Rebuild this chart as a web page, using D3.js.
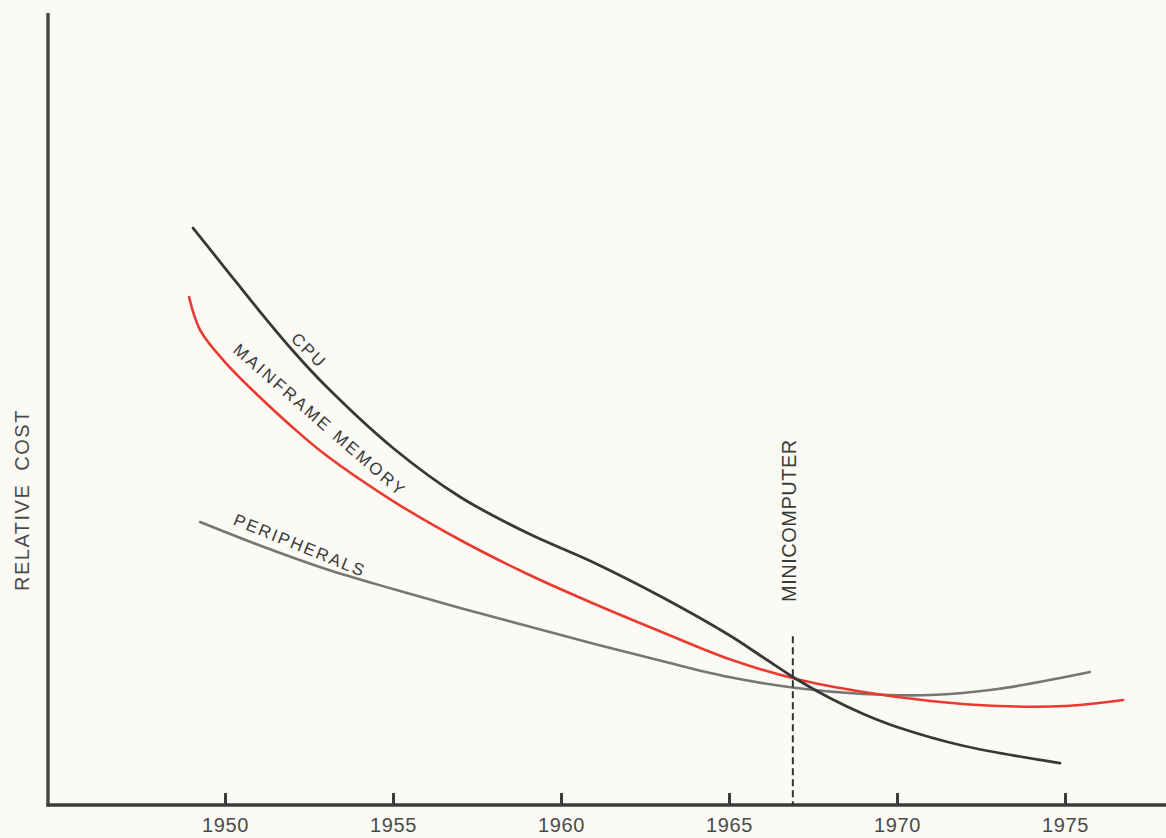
<!DOCTYPE html>
<meta charset="utf-8">
<script src="https://cdn.jsdelivr.net/npm/d3@7"></script>

<style>
    body {
        margin: 0;
        background: #fbfaf5;
    }
    svg {
        display: block;
        font-family: "Liberation Sans", Arial, Helvetica, sans-serif;
    }
    .tick text {
        fill: #4a4a4a;
        font-size: 20px;
        letter-spacing: 0.6px;
    }
    .tick line {
        stroke: #3c3c3c;
        stroke-width: 3;
    }
    .curve-label {
        fill: #3a3a3a;
        font-size: 17px;
        letter-spacing: 2px;
    }
</style>

<svg width="1166" height="838"></svg>

<script>
    // tick labels on the year axis
    var tickYears = [1950, 1955, 1960, 1965, 1970, 1975];

    // CPU
    var cpuYears = [1949.05, 1950, 1951, 1952, 1953, 1955, 1957, 1959, 1961, 1963, 1965, 1966, 1967, 1968, 1969, 1970, 1972, 1974.85];
    var cpuCost = [72.85, 67.8, 62.5, 57.45, 52.9, 45.08, 38.89, 34.34, 30.56, 26.26, 21.46, 18.69, 15.91, 13.51, 11.49, 9.85, 7.45, 5.3];

    // mainframe memory
    var memoryYears = [1948.93, 1949.26, 1950, 1951, 1952, 1953, 1955, 1957, 1959, 1961, 1963, 1965, 1967, 1969, 1971, 1973, 1975, 1976.73];
    var memoryCost = [64.14, 59.97, 55.93, 51.64, 47.73, 44.19, 38.38, 33.46, 29.17, 25.38, 21.84, 18.43, 15.91, 14.27, 13.13, 12.5, 12.5, 13.26];

    // peripherals
    var periphYears = [1949.26, 1951, 1953, 1955, 1957, 1959, 1961, 1963, 1965, 1967, 1969, 1971, 1973, 1975, 1975.74];
    var periphCost = [35.73, 32.83, 29.8, 27.27, 24.87, 22.6, 20.33, 18.18, 16.16, 14.77, 14.02, 13.89, 14.65, 16.16, 16.79];

    // minicomputer marker
    var minicomputerYear = 1966.9;
    var minicomputerTop = 21.3;

    var svg = d3.select("svg"),
        width = +svg.attr("width"),
        height = +svg.attr("height");

    var x = d3.scaleLinear().domain([1950, 1975]).range([225, 1065]);
    var y = d3.scaleLinear().domain([0, 100]).range([805, 13]);

    var left = 48,
        bottom = y(0);

    function pairs(a, b) {
        return a.map(function (v, i) {
            return [v, b[i]];
        });
    }

    var line = d3.line()
        .x(function (d) { return x(d[0]); })
        .y(function (d) { return y(d[1]); })
        .curve(d3.curveCatmullRom.alpha(0.5));

    // axis lines
    svg.append("line")
        .attr("x1", left).attr("x2", left)
        .attr("y1", y(100)).attr("y2", bottom + 1.5)
        .attr("stroke", "#4a4a4a")
        .attr("stroke-width", 3.5);

    svg.append("line")
        .attr("x1", left - 1.5).attr("x2", width)
        .attr("y1", bottom).attr("y2", bottom)
        .attr("stroke", "#3c3c3c")
        .attr("stroke-width", 3.5);

    var xAxis = d3.axisBottom(x)
        .tickValues(tickYears)
        .tickFormat(d3.format("d"))
        .tickSize(-12)
        .tickPadding(13);

    svg.append("g")
        .attr("transform", "translate(0," + bottom + ")")
        .call(xAxis)
        .call(function (g) { g.select(".domain").remove(); });

    // curves
    var series = [
        {name: "PERIPHERALS", data: pairs(periphYears, periphCost), color: "#767676", width: 2.6},
        {name: "MAINFRAME MEMORY", data: pairs(memoryYears, memoryCost), color: "#ea3a2f", width: 2.6},
        {name: "CPU", data: pairs(cpuYears, cpuCost), color: "#383838", width: 2.8}
    ];

    svg.append("g")
        .selectAll("path")
        .data(series)
        .enter().append("path")
        .attr("d", function (d) { return line(d.data); })
        .attr("fill", "none")
        .attr("stroke", function (d) { return d.color; })
        .attr("stroke-width", function (d) { return d.width; })
        .attr("stroke-linecap", "round");

    // minicomputer dashed marker
    svg.append("line")
        .attr("x1", x(minicomputerYear)).attr("x2", x(minicomputerYear))
        .attr("y1", y(minicomputerTop)).attr("y2", bottom)
        .attr("stroke", "#333")
        .attr("stroke-width", 2)
        .attr("stroke-dasharray", "7,4");

    // curve labels: [text, year, cost, angle]
    var labelSpots = [
        ["CPU", 1952.5, 57.4, 45],
        ["MAINFRAME MEMORY", 1952.83, 48.6, 41],
        ["PERIPHERALS", 1952.23, 32.8, 22]
    ];

    svg.append("g")
        .selectAll("text")
        .data(labelSpots)
        .enter().append("text")
        .attr("class", "curve-label")
        .attr("transform", function (d) {
            return "translate(" + x(d[1]) + "," + y(d[2]) + ") rotate(" + d[3] + ")";
        })
        .attr("text-anchor", "middle")
        .attr("dy", "0.35em")
        .style("letter-spacing", function (d) { return d[0] === "MAINFRAME MEMORY" ? "2.5px" : null; })
        .text(function (d) { return d[0]; });

    svg.append("text")
        .attr("transform", "translate(" + (x(minicomputerYear) - 4) + "," + y(35.9) + ") rotate(-90)")
        .attr("text-anchor", "middle")
        .attr("dy", "0.35em")
        .attr("fill", "#3a3a3a")
        .style("font-size", "20px")
        .style("letter-spacing", "0.5px")
        .text("MINICOMPUTER");

    // y axis title
    svg.append("text")
        .attr("transform", "translate(22," + y(38.5) + ") rotate(-90)")
        .attr("text-anchor", "middle")
        .attr("dy", "0.35em")
        .attr("fill", "#4a4a4a")
        .style("font-size", "20px")
        .style("letter-spacing", "1.5px")
        .style("word-spacing", "6px")
        .text("RELATIVE COST");
</script>
